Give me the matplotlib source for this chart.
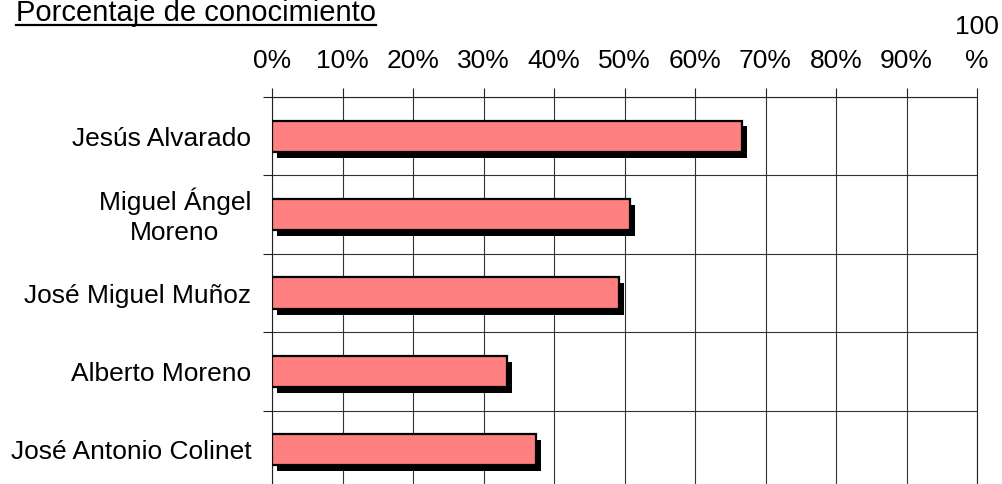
import matplotlib
matplotlib.use("Agg")
import matplotlib.pyplot as plt
import matplotlib.patheffects as pe
import matplotlib.transforms as mtransforms
from matplotlib.lines import Line2D

names = ["Jesús Alvarado", "Miguel Ángel\nMoreno", "José Miguel Muñoz",
         "Alberto Moreno", "José Antonio Colinet"]
values = [66.7, 50.8, 49.2, 33.3, 37.5]
xticks = [0, 10, 20, 30, 40, 50, 60, 70, 80, 90, 100]
xlabels = ["0%", "10%", "20%", "30%", "40%", "50%", "60%", "70%", "80%", "90%", "100\n%"]
title = "Porcentaje de conocimiento"

plt.rcParams["font.family"] = ["Liberation Sans", "DejaVu Sans"]
fs = 19

fig = plt.figure(figsize=(10.02, 4.84), dpi=100)
ax = fig.add_axes([272 / 1002, -5 / 484, 705 / 1002, 392 / 484])

pos = list(range(len(names)))
ax.barh(pos, values, height=0.4, color="#FF8080", edgecolor="black", linewidth=1.6,
        path_effects=[pe.SimplePatchShadow(offset=(3.6, -4.3), shadow_rgbFace="black", alpha=1),
                      pe.Normal()], zorder=3)

ax.set_xlim(0, 100)
ax.set_ylim(len(names) - 0.5, -0.5)

ax.xaxis.tick_top()
ax.set_xticks(xticks)
ax.set_xticklabels(xlabels, fontsize=fs, linespacing=1.5)
ax.tick_params(axis="x", direction="out", length=6.5, width=0.8, color="#222222", pad=11)

ax.set_yticks([p + 0.5 for p in pos[:-1]] + [-0.5])
ax.set_yticklabels([])
ax.set_yticks(pos, minor=True)
ax.set_yticklabels(names, minor=True, fontsize=fs, multialignment="center", linespacing=1.3)
ax.tick_params(axis="y", which="major", direction="out", length=6.5, width=0.8, color="#222222")
ax.tick_params(axis="y", which="minor", length=0, pad=15)

# two-line label sits a little higher in the original
shift = mtransforms.ScaledTranslation(0, 4 / 100, fig.dpi_scale_trans)
for lbl in ax.get_yticklabels(minor=True):
    if "\n" in lbl.get_text():
        lbl.set_transform(lbl.get_transform() + shift)

ax.grid(True, which="major", color="#333333", linewidth=0.8, zorder=0)
ax.set_axisbelow(True)
ax.spines["bottom"].set_visible(False)
for s in ["top", "left", "right"]:
    ax.spines[s].set_linewidth(0.8)
    ax.spines[s].set_color("#222222")

t = fig.text(16 / 1002, 1 - 21 / 484, title, fontsize=21, va="baseline", ha="left")
fig.canvas.draw()
bb = t.get_window_extent()
fig.add_artist(Line2D([bb.x0 / 1002, bb.x1 / 1002], [1 - 25 / 484, 1 - 25 / 484],
                      color="black", linewidth=1.6, transform=fig.transFigure))

fig.savefig("out.png", dpi=100)
